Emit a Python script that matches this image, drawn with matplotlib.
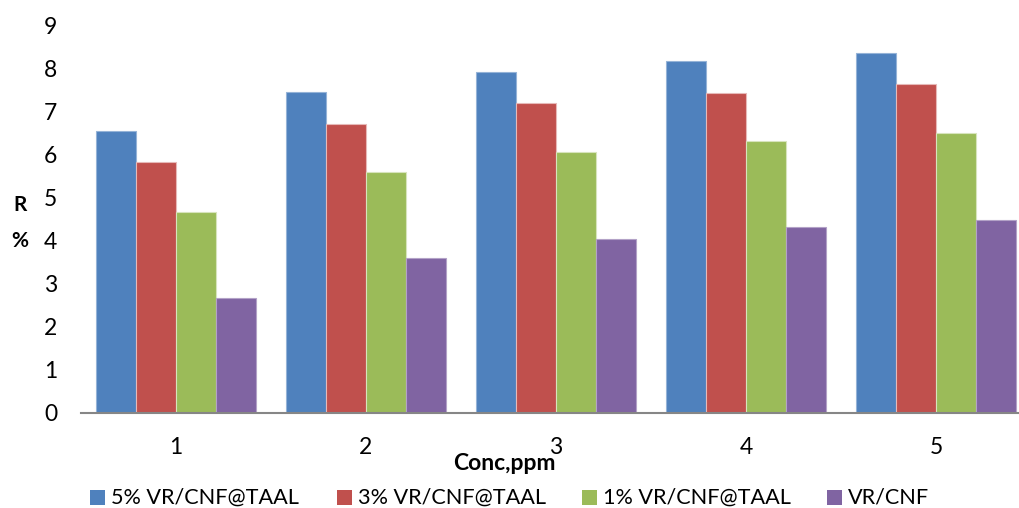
import matplotlib
matplotlib.use("Agg")
import matplotlib.pyplot as plt
import numpy as np

plt.rcParams['font.family'] = ['Lato', 'DejaVu Sans']

categories = ["1", "2", "3", "4", "5"]
series_names = ["5% VR/CNF@TAAL", "3% VR/CNF@TAAL", "1% VR/CNF@TAAL", "VR/CNF"]
vals_5pct = [6.53, 7.44, 7.90, 8.17, 8.35]
vals_3pct = [5.81, 6.70, 7.18, 7.43, 7.62]
vals_1pct = [4.66, 5.58, 6.05, 6.31, 6.50]
vals_base = [2.66, 3.58, 4.03, 4.30, 4.48]
y_ticks = list(range(0, 10))

colors = ["#4F81BD", "#C0504D", "#9BBB59", "#8064A2"]
edges = ["#95B3D7", "#E6B9B8", "#D7E4BD", "#B3A2C7"]

W, H = 1019, 508
fig = plt.figure(figsize=(W / 100, H / 100), dpi=100)
ax = fig.add_axes([81 / W, 1 - 412.5 / H, 950 / W, (412.5 - 25) / H])

x = np.arange(len(categories))
bw = 0.2105
all_vals = [vals_5pct, vals_3pct, vals_1pct, vals_base]
for i, (vals, c, ec) in enumerate(zip(all_vals, colors, edges)):
    ax.bar(x + (i - 1.5) * bw, vals, width=bw, color=c, edgecolor=ec,
           linewidth=0.8, zorder=2)

ax.set_xlim(-0.5, len(categories) - 0.5)
ax.set_ylim(0, 9)
ax.set_yticks(y_ticks)
ax.set_yticklabels([str(t) for t in y_ticks], fontsize=16.5)
ax.set_xticks(x)
ax.set_xticklabels(categories, fontsize=16.5)
ax.tick_params(axis='y', length=0, pad=17)
ax.tick_params(axis='x', length=0, pad=18)

for s in ["top", "right", "left"]:
    ax.spines[s].set_visible(False)
ax.spines["bottom"].set_color("#868686")
ax.spines["bottom"].set_linewidth(1.5)

fig.text(504 / W, 1 - 463 / H, "Conc,ppm", ha="center", va="center",
         fontsize=16.5, fontweight="bold")
fig.text(20 / W, 1 - 205 / H, "R", ha="center", va="center",
         fontsize=15, fontweight="bold")
fig.text(20 / W, 1 - 241 / H, "%", ha="center", va="center",
         fontsize=15, fontweight="bold")

# legend row along the bottom
sq_x = [90, 337, 582, 827]
for name, c, sx in zip(series_names, colors, sq_x):
    fig.patches.append(matplotlib.patches.Rectangle(
        (sx / W, 1 - 505 / H), 15 / W, 15 / H, transform=fig.transFigure,
        facecolor=c, edgecolor="none"))
    fig.text((sx + 21) / W, 1 - 497.5 / H, name, ha="left", va="center",
             fontsize=15.6)

fig.savefig("out.png", dpi=100, facecolor="white")
